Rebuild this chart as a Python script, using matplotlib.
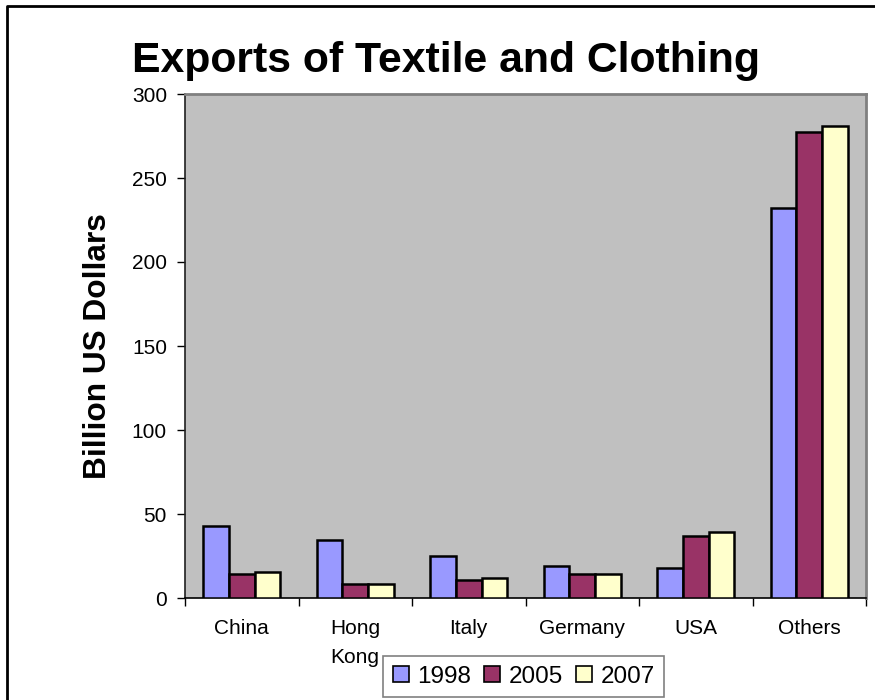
import matplotlib
matplotlib.use("Agg")
import matplotlib.pyplot as plt
import numpy as np
from matplotlib.patches import Patch
from matplotlib.lines import Line2D

plt.rcParams['font.family'] = ['Liberation Sans', 'DejaVu Sans']

categories = ["China", "Hong\nKong", "Italy", "Germany", "USA", "Others"]
years = ["1998", "2005", "2007"]
v1998 = [43, 34.5, 25, 18.8, 17.7, 232]
v2005 = [14.3, 8.1, 10.9, 14.1, 36.9, 277.5]
v2007 = [15.7, 8.3, 11.9, 14.1, 39.3, 281]
colors = ["#9999FF", "#993366", "#FFFFCC"]
yticks = [0, 50, 100, 150, 200, 250, 300]

fig = plt.figure(figsize=(8.75, 7), dpi=100)
ax = fig.add_axes([185/875, 1-598/700, (866-185)/875, (598-94)/700])
ax.set_facecolor("#C0C0C0")

x = np.arange(len(categories))
w = 0.227
series = [v1998, v2005, v2007]
for i, (vals, c) in enumerate(zip(series, colors)):
    ax.bar(x + (i-1)*w, vals, width=w, color=c, edgecolor="black", linewidth=1.8, zorder=3)

ax.set_xlim(-0.5, len(categories)-0.5)
ax.set_ylim(0, 300)
ax.set_yticks(yticks)
ax.set_yticklabels([str(t) for t in yticks])
ax.tick_params(axis='y', direction='out', length=6, width=1, pad=7, labelsize=15, color='black')
ax.set_xticks(x)
ax.set_xticklabels(categories)
ax.tick_params(axis='x', which='major', length=0, pad=15, labelsize=15)
ax.set_xticks(np.arange(-0.5, len(categories), 1.0), minor=True)
ax.tick_params(axis='x', which='minor', direction='out', length=6, width=1, color='black')
for lbl in ax.get_xticklabels():
    lbl.set_linespacing(1.7)
    lbl.set_verticalalignment('top')

ax.spines['left'].set_color('#202020')
ax.spines['left'].set_linewidth(1.2)
ax.spines['bottom'].set_color('black')
ax.spines['bottom'].set_linewidth(1.2)
ax.spines['top'].set_color('#808080')
ax.spines['top'].set_linewidth(2)
ax.spines['right'].set_color('#808080')
ax.spines['right'].set_linewidth(2)

fig.text(446/875, 1-72/700, "Exports of Textile and Clothing", ha='center', va='baseline',
         fontsize=30.8, fontweight='bold')
fig.text(98/875, 1-346/700, "Billion US Dollars", rotation=90, ha='center', va='center',
         fontsize=22.8, fontweight='bold')

handles = [Patch(facecolor=c, edgecolor='black', linewidth=1.2, label=y) for c, y in zip(colors, years)]
leg = fig.legend(handles=handles, loc='upper left', bbox_to_anchor=(383/875, 1-656/700),
                 ncol=3, fontsize=17.5, frameon=True, fancybox=False, handlelength=0.65,
                 handleheight=0.65, handletextpad=0.35, columnspacing=0.55, borderpad=0.4,
                 borderaxespad=0)
leg.get_frame().set_edgecolor('#606060')
leg.get_frame().set_linewidth(1.2)

fig.add_artist(Line2D([7/875, 7/875, 1.02], [-0.02, 1-6/700, 1-6/700], color='black',
                      linewidth=2, transform=fig.transFigure))

fig.savefig("out.png", dpi=100)
